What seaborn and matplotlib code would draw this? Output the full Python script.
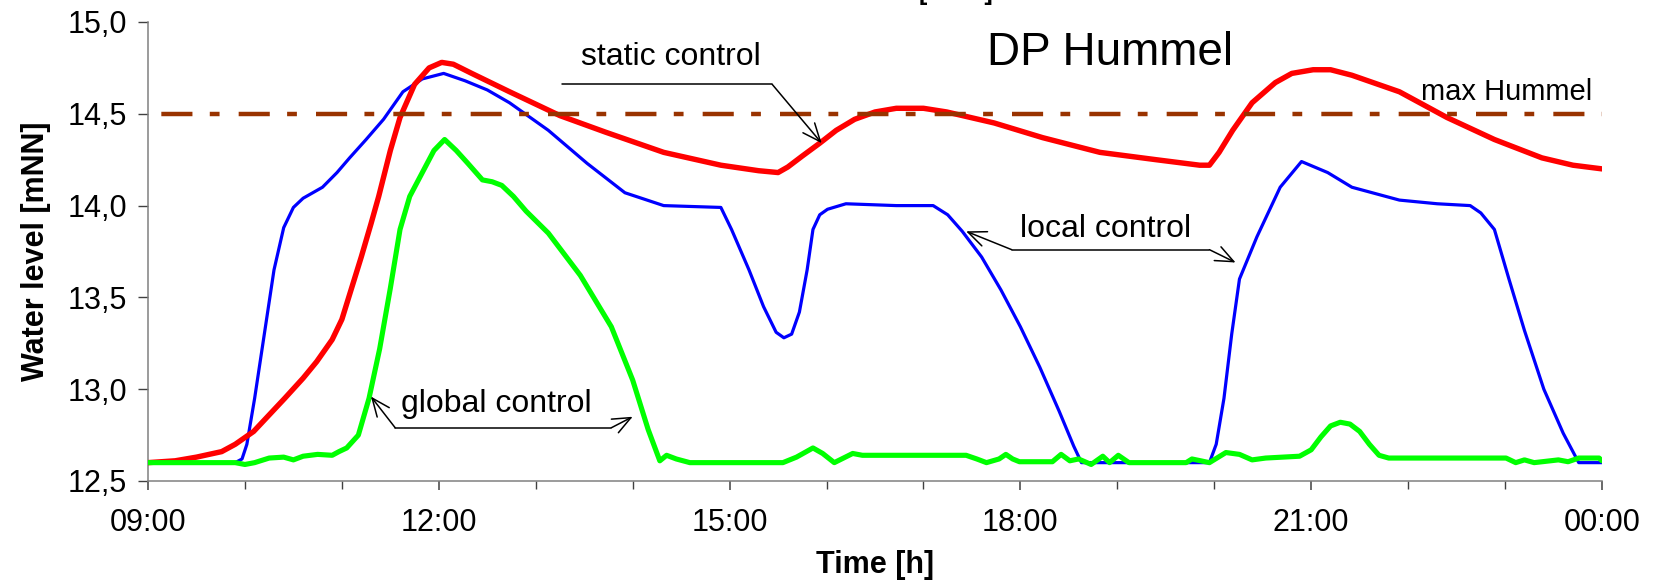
import numpy as np
import pandas as pd
import matplotlib
matplotlib.use("Agg")
import matplotlib.pyplot as plt
import seaborn as sns

# ---------------- data (hours since midnight; water level in mNN) ----------------
blue_t = [9.0, 9.9, 9.97, 10.02, 10.1, 10.2, 10.3, 10.4, 10.5, 10.6, 10.7, 10.8, 10.95, 11.08,
          11.25, 11.43, 11.63, 11.83, 12.05, 12.27, 12.5, 12.73, 13.13, 13.53, 13.92, 14.32,
          14.91, 15.02, 15.2, 15.35, 15.48, 15.56, 15.64, 15.72, 15.8, 15.86, 15.93, 16.01,
          16.2, 16.72, 17.1, 17.25, 17.4, 17.6, 17.8, 18.0, 18.2, 18.4, 18.55, 18.63, 19.0,
          19.95, 20.02, 20.1, 20.18, 20.26, 20.44, 20.68, 20.9, 21.17, 21.42, 21.91, 22.3,
          22.64, 22.75, 22.89, 23.04, 23.2, 23.4, 23.6, 23.76, 24.0]
blue_v = [12.6, 12.6, 12.62, 12.7, 12.95, 13.3, 13.65, 13.88, 13.99, 14.04, 14.07, 14.1, 14.18,
          14.26, 14.36, 14.47, 14.62, 14.69, 14.72, 14.68, 14.63, 14.56, 14.41, 14.23, 14.07,
          14.0, 13.99, 13.87, 13.65, 13.45, 13.31, 13.28, 13.3, 13.42, 13.65, 13.87, 13.95,
          13.98, 14.01, 14.0, 14.0, 13.95, 13.86, 13.72, 13.54, 13.34, 13.12, 12.88, 12.69,
          12.6, 12.6, 12.6, 12.7, 12.95, 13.3, 13.6, 13.83, 14.1, 14.24, 14.18, 14.1, 14.03,
          14.01, 14.0, 13.96, 13.87, 13.6, 13.32, 13.0, 12.76, 12.6, 12.6]

red_t = [9.0, 9.28, 9.5, 9.76, 9.9, 10.09, 10.25, 10.41, 10.6, 10.74, 10.9, 11.0, 11.1, 11.2,
         11.3, 11.38, 11.5, 11.6, 11.75, 11.9, 12.03, 12.15, 12.34, 12.73, 13.25, 13.72, 14.32,
         14.91, 15.3, 15.5, 15.6, 15.75, 15.93, 16.1, 16.29, 16.5, 16.72, 17.0, 17.24, 17.73,
         18.23, 18.82, 19.4, 19.85, 19.95, 20.05, 20.19, 20.39, 20.63, 20.8, 21.02, 21.2,
         21.42, 21.91, 22.4, 22.89, 23.38, 23.7, 24.0]
red_v = [12.6, 12.61, 12.63, 12.66, 12.7, 12.77, 12.86, 12.95, 13.06, 13.15, 13.27, 13.38,
         13.55, 13.72, 13.9, 14.05, 14.3, 14.48, 14.66, 14.75, 14.78, 14.77, 14.72, 14.62,
         14.49, 14.4, 14.29, 14.22, 14.19, 14.18, 14.21, 14.27, 14.34, 14.41, 14.47, 14.51,
         14.53, 14.53, 14.51, 14.45, 14.37, 14.29, 14.25, 14.22, 14.22, 14.29, 14.41, 14.56,
         14.67, 14.72, 14.74, 14.74, 14.71, 14.62, 14.48, 14.36, 14.26, 14.22, 14.2]

green_t = [9.0, 9.9, 10.0, 10.1, 10.25, 10.4, 10.5, 10.6, 10.75, 10.9, 10.97, 11.05, 11.17,
           11.28, 11.39, 11.5, 11.6, 11.7, 11.83, 11.95, 12.06, 12.18, 12.3, 12.45, 12.55,
           12.65, 12.77, 12.9, 13.13, 13.46, 13.78, 14.0, 14.16, 14.28, 14.35, 14.45, 14.59,
           15.55, 15.69, 15.86, 15.96, 16.08, 16.27, 16.37, 17.44, 17.55, 17.65, 17.78, 17.85,
           17.92, 17.99, 18.33, 18.42, 18.51, 18.6, 18.73, 18.85, 18.92, 19.01, 19.12, 19.71,
           19.77, 19.95, 20.12, 20.26, 20.39, 20.53, 20.88, 21.0, 21.1, 21.2, 21.3, 21.4, 21.5,
           21.6, 21.7, 21.8, 21.9, 23.01, 23.11, 23.2, 23.3, 23.55, 23.65, 23.76, 23.97, 24.0]
green_v = [12.6, 12.6, 12.59, 12.6, 12.625, 12.63, 12.615, 12.635, 12.645, 12.64, 12.66, 12.68,
           12.75, 12.95, 13.22, 13.55, 13.87, 14.05, 14.18, 14.3, 14.36, 14.3, 14.23, 14.14,
           14.13, 14.11, 14.05, 13.97, 13.85, 13.62, 13.34, 13.05, 12.78, 12.61, 12.64, 12.62,
           12.6, 12.6, 12.63, 12.68, 12.65, 12.6, 12.65, 12.64, 12.64, 12.62, 12.6, 12.62,
           12.645, 12.62, 12.605, 12.605, 12.645, 12.61, 12.62, 12.59, 12.635, 12.6, 12.64,
           12.6, 12.6, 12.62, 12.6, 12.655, 12.645, 12.615, 12.625, 12.635, 12.67, 12.74, 12.8,
           12.82, 12.81, 12.77, 12.7, 12.64, 12.625, 12.625, 12.625, 12.6, 12.615, 12.6, 12.615,
           12.605, 12.625, 12.625, 12.61]

max_level = 14.5

x_ticks = [9, 12, 15, 18, 21, 24]
x_tick_labels = ["09:00", "12:00", "15:00", "18:00", "21:00", "00:00"]
y_ticks = [12.5, 13.0, 13.5, 14.0, 14.5, 15.0]
y_tick_labels = ["12,5", "13,0", "13,5", "14,0", "14,5", "15,0"]

# ---------------- style ----------------
sns.set_style("white")
plt.rcParams["font.family"] = ["Liberation Sans", "DejaVu Sans"]
plt.rcParams["text.color"] = "black"
plt.rcParams["axes.labelcolor"] = "black"
plt.rcParams["xtick.labelcolor"] = "black"
plt.rcParams["ytick.labelcolor"] = "black"

W, H = 1653, 585
fig = plt.figure(figsize=(W / 100, H / 100), dpi=100, facecolor="white")
ax = fig.add_axes([148 / W, 1 - 481 / H, 1454 / W, 459 / H])

df_blue = pd.DataFrame({"t": blue_t, "v": blue_v})
df_red = pd.DataFrame({"t": red_t, "v": red_v})
df_green = pd.DataFrame({"t": green_t, "v": green_v})

sns.lineplot(data=df_blue, x="t", y="v", ax=ax, color="#0000FF", lw=2.3,
             estimator=None, sort=False, zorder=2)
sns.lineplot(data=df_red, x="t", y="v", ax=ax, color="#FF0000", lw=3.9,
             estimator=None, sort=False, zorder=3)
sns.lineplot(data=df_green, x="t", y="v", ax=ax, color="#00FF00", lw=3.7,
             estimator=None, sort=False, zorder=4)
ax.axhline(max_level, color="#993300", lw=3.2,
           ls=(14.4, (7.0, 3.9, 2.2, 4.3)), zorder=5)

ax.set_xlim(9, 24)
ax.set_ylim(12.5, 15.0)

ax.set_xticks(x_ticks)
ax.set_xticklabels(x_tick_labels)
ax.set_xticks(np.arange(9, 25, 1), minor=True)
ax.set_yticks(y_ticks)
ax.set_yticklabels(y_tick_labels)

for s in ["top", "right"]:
    ax.spines[s].set_visible(False)
for s in ["left", "bottom"]:
    ax.spines[s].set_color("#808080")
    ax.spines[s].set_linewidth(1.1)

ax.tick_params(axis="x", which="major", direction="out", length=6.7, width=1.1,
               color="#404040", labelcolor="black", pad=13, labelsize=22, bottom=True)
ax.tick_params(axis="x", which="minor", direction="out", length=5.5, width=1.0,
               color="#404040", bottom=True)
ax.tick_params(axis="y", which="major", direction="out", length=7, width=1.0,
               color="#404040", labelcolor="black", pad=8, labelsize=22, left=True)

ax.set_xlabel("Time [h]", fontsize=22, fontweight="bold", color="black")
ax.set_ylabel("Water level [mNN]", fontsize=22, fontweight="bold", color="black")
ax.xaxis.set_label_coords(0.5, -0.15)
ax.yaxis.set_label_coords(-0.067, 0.5)

# ---------------- annotations ----------------
ax.text(18.92, 14.83, "DP Hummel", ha="center", va="center", fontsize=33, color="black")
ax.text(23.9, 14.62, "max Hummel", ha="right", va="center", fontsize=21, color="black")

arrow = dict(arrowstyle="->,head_length=1.3,head_width=0.55", color="black",
             lw=1.1, shrinkA=0, shrinkB=0, mutation_scale=10)

# static control
ax.text(14.39, 14.81, "static control", ha="center", va="center", fontsize=23, color="black")
ax.plot([13.27, 15.44], [14.66, 14.66], color="black", lw=1.1, zorder=6)
ax.annotate("", xy=(15.95, 14.34), xytext=(15.44, 14.66), arrowprops=arrow, zorder=6)

# local control
ax.text(18.88, 13.87, "local control", ha="center", va="center", fontsize=23, color="black")
ax.plot([17.91, 19.95], [13.76, 13.76], color="black", lw=1.1, zorder=6)
ax.annotate("", xy=(17.44, 13.86), xytext=(17.91, 13.76), arrowprops=arrow, zorder=6)
ax.annotate("", xy=(20.22, 13.69), xytext=(19.95, 13.76), arrowprops=arrow, zorder=6)

# global control
ax.text(12.59, 12.92, "global control", ha="center", va="center", fontsize=23, color="black")
ax.plot([11.55, 13.78], [12.79, 12.79], color="black", lw=1.1, zorder=6)
ax.annotate("", xy=(11.30, 12.96), xytext=(11.55, 12.79), arrowprops=arrow, zorder=6)
ax.annotate("", xy=(14.0, 12.85), xytext=(13.78, 12.79), arrowprops=arrow, zorder=6)

# cut-off title fragment at the very top (as in the reference)
fig.text(0.5785, 1.0, "[mNN]", ha="center", va="baseline", fontsize=18,
         fontweight="bold", color="black")

fig.savefig("out.png", dpi=100, facecolor="white")
